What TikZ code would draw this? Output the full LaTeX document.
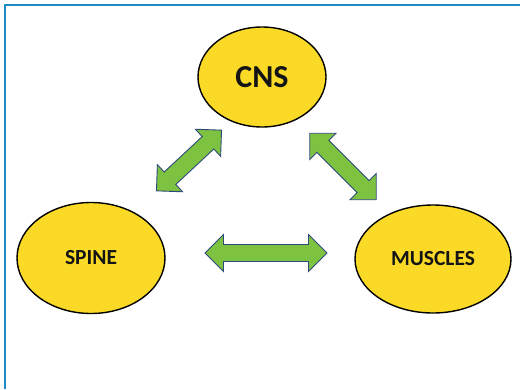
\documentclass[tikz,border=0pt]{standalone}
\usepackage{fontspec}
\setmainfont{Carlito}
\usetikzlibrary{shapes.geometric}
\definecolor{frameblue}{RGB}{30,138,200}
\definecolor{ellyellow}{RGB}{250,218,38}
\definecolor{arrgreen}{RGB}{126,194,66}
\definecolor{arrborder}{RGB}{46,74,122}
\definecolor{txt}{RGB}{20,20,20}
\tikzset{
  organ/.style={ellipse, draw=black, line width=1.4pt, fill=ellyellow, inner sep=0pt,
    font=\bfseries, text=txt},
  darrowstyle/.style={draw=arrborder, line width=0.9pt, fill=arrgreen, line join=miter},
  pics/darr/.style={code={
    \pgfmathsetmacro\hl{#1/2}
    \draw[darrowstyle] (-\hl,0) -- (-\hl+18.5,-18.5) -- (-\hl+18.5,-8.5) -- (\hl-18.5,-8.5) -- (\hl-18.5,-18.5)
      -- (\hl,0) -- (\hl-18.5,18.5) -- (\hl-18.5,8.5) -- (-\hl+18.5,8.5) -- (-\hl+18.5,18.5) -- cycle;
    \coordinate (-s) at (-\hl,0);
    \coordinate (-e) at (\hl,0);
  }},
}
\begin{document}
\begin{tikzpicture}[x=1pt,y=-1pt]
\useasboundingbox (0,0) rectangle (520,389);
\draw[frameblue, line width=2pt] (5,389) -- (5,4.5) -- (520,4.5);
\node[organ, minimum width=128pt, minimum height=100pt, font=\fontsize{32}{34}\bfseries] (cns) at (262,77) {CNS};
\node[organ, minimum width=148pt, minimum height=111pt, font=\fontsize{21.5}{24}\bfseries] (spine) at (91,258) {SPINE};
\node[organ, minimum width=156pt, minimum height=108pt, font=\fontsize{21.5}{24}\bfseries] (muscles) at (433,259) {MUSCLES};
\pic[rotate=43] (a1) at (189,160.5) {darr=89};
\pic[rotate=-45] (a2) at (343,166.5) {darr=94};
\pic (a3) at (266,253) {darr=122};
\end{tikzpicture}
\end{document}
